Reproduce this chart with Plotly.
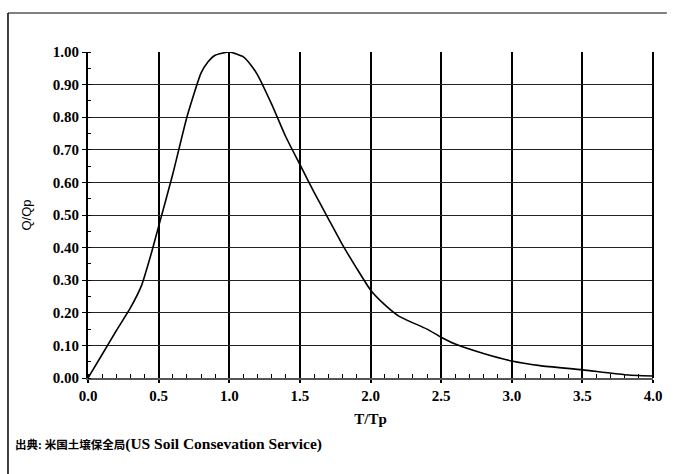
import plotly.graph_objects as go

t_tp = [0.0, 0.1, 0.2, 0.3, 0.38, 0.45, 0.5, 0.6, 0.7, 0.8, 0.85, 0.9, 1.0, 1.1, 1.15, 1.2, 1.3, 1.4,
        1.5, 1.6, 1.7, 1.8, 1.9, 2.0, 2.1, 2.2, 2.4, 2.5, 2.6, 2.8, 3.0, 3.2, 3.5, 3.8, 4.0]
q_qp = [0.0, 0.072, 0.145, 0.215, 0.285, 0.385, 0.465, 0.625, 0.80, 0.935, 0.97, 0.99, 1.0, 0.985,
        0.962, 0.93, 0.84, 0.74, 0.655, 0.57, 0.49, 0.41, 0.338, 0.27, 0.225, 0.19, 0.15, 0.125,
        0.104, 0.075, 0.052, 0.038, 0.025, 0.01, 0.006]

x_ticks = [0.0, 0.5, 1.0, 1.5, 2.0, 2.5, 3.0, 3.5, 4.0]
y_ticks = [0.0, 0.1, 0.2, 0.3, 0.4, 0.5, 0.6, 0.7, 0.8, 0.9, 1.0]

x_title = "T/Tp"
y_title = "Q/Qp"
source_jp = "出典: 米国土壌保全局"
source_en = "(US Soil Consevation Service)"

serif = "Liberation Serif, Noto Sans CJK JP, serif"

fig = go.Figure()
fig.add_trace(go.Scatter(
    x=t_tp, y=q_qp, mode="lines",
    line=dict(color="black", width=1.6, shape="spline", smoothing=0.5),
    showlegend=False, hoverinfo="skip", cliponaxis=False,
))

W, H = 674, 474
ml, mr, mt, mb = 88, 14, 52, 96
pw, ph = W - ml - mr, H - mt - mb

fig.update_layout(
    width=W, height=H,
    margin=dict(l=ml, r=mr, t=mt, b=mb),
    paper_bgcolor="white", plot_bgcolor="white",
    font=dict(family=serif, color="black", size=13),
)

fig.update_xaxes(
    range=[0, 4], tickvals=x_ticks, ticktext=[f"{v:.1f}" for v in x_ticks],
    showgrid=True, gridcolor="black", gridwidth=2,
    showline=True, linecolor="#555", linewidth=1.5, mirror=False,
    ticks="outside", ticklen=3, tickcolor="black", tickwidth=1.5,
    tickfont=dict(family=serif, size=15, color="black", weight="bold"),
    minor=dict(dtick=0.1, ticks="inside", ticklen=4, tickcolor="black", tickwidth=1, showgrid=False),
    zeroline=False,
    title=dict(text=x_title, font=dict(family=serif, size=15, color="black", weight="bold"), standoff=11),
)
fig.update_yaxes(
    range=[0, 1], tickvals=y_ticks, ticktext=[f"{v:.2f}" for v in y_ticks],
    showgrid=True, gridcolor="#222", gridwidth=1.3,
    showline=True, linecolor="black", linewidth=2, mirror=False,
    ticks="outside", ticklen=4, tickcolor="black", tickwidth=1.3,
    tickfont=dict(family=serif, size=15, color="black", weight="bold"),
    minor=dict(dtick=0.05, ticks="inside", ticklen=3, tickcolor="black", tickwidth=1, showgrid=False),
    zeroline=False,
    title=dict(text=y_title, font=dict(family="Liberation Sans, Arial, sans-serif", size=13, color="black"), standoff=18),
)

# right border of plot area
fig.add_shape(type="line", xref="paper", yref="paper", x0=1, x1=1, y0=0, y1=1,
              line=dict(color="black", width=2))

# outer frame (top and left lines)
fx0 = (7 - ml) / pw
fy_top = (H - mb - 13) / ph
fy_bot = (H - mb - H) / ph
fig.add_shape(type="line", xref="paper", yref="paper", x0=fx0, x1=(W - ml) / pw, y0=fy_top, y1=fy_top,
              line=dict(color="black", width=1))
fig.add_shape(type="line", xref="paper", yref="paper", x0=fx0, x1=fx0, y0=fy_top, y1=fy_bot,
              line=dict(color="black", width=1.5))

fig.add_annotation(
    text=f'<span style="font-size:11.5px">{source_jp}</span>{source_en}',
    xref="paper", yref="paper",
    x=(12 - ml) / pw, y=(H - mb - 444) / ph, xanchor="left", yanchor="middle",
    showarrow=False, font=dict(family=serif, size=15.5, color="black", weight="bold"),
)

fig.write_html("out.html")
